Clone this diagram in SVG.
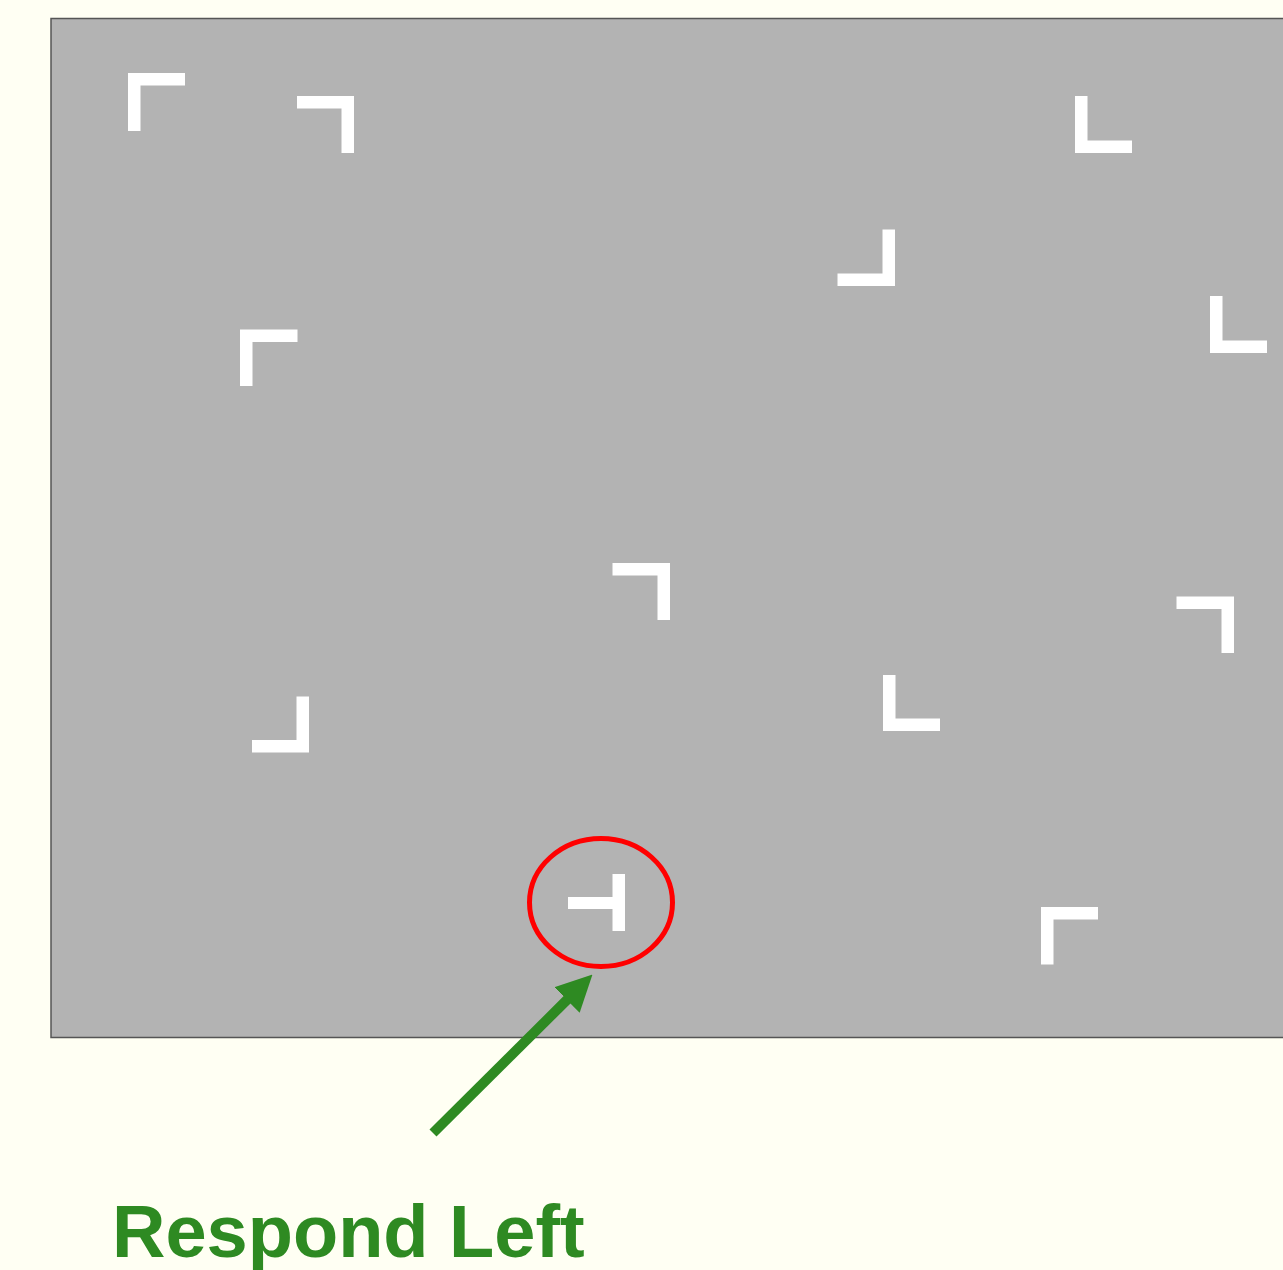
<svg xmlns="http://www.w3.org/2000/svg" width="1283" height="1270" viewBox="0 0 1283 1270">
<defs>
<style>
.item{fill:#ffffff}
.label{font-family:"Liberation Sans",Arial,sans-serif;font-weight:bold;font-size:74px;fill:#2e8a22}
</style>
<marker id="head" viewBox="0 0 36 36" refX="5" refY="18" markerWidth="36" markerHeight="36" markerUnits="userSpaceOnUse" orient="auto">
<path d="M0 0 L36 18 L0 36 Z" fill="#2e8a22"/>
</marker>
</defs>
<rect width="1283" height="1270" fill="#fffff3"/>
<g id="display">
<rect x="51" y="18.5" width="1240" height="1019" fill="#b3b3b3" stroke="#555555" stroke-width="1.5"/>
</g>
<g id="distractors">
<path id="d1" class="item" d="M128 73 H185 V85.5 H140.5 V131 H128 Z"/>
<path id="d2" class="item" d="M354 96 V153 H341.5 V108.5 H297 V96 Z"/>
<path id="d3" class="item" d="M1075 96 H1087.5 V140.5 H1132 V153 H1075 Z"/>
<path id="d4" class="item" d="M1210 296 H1222.5 V340.5 H1267 V353 H1210 Z"/>
<path id="d5" class="item" d="M895 229.5 V286 H837.5 V273.5 H882.5 V229.5 Z"/>
<path id="d6" class="item" d="M240 329.5 H297.5 V342 H252.5 V386 H240 Z"/>
<path id="d7" class="item" d="M670 563 V620 H657.5 V575.5 H612.5 V563 Z"/>
<path id="d8" class="item" d="M1234 596.5 V653 H1221.5 V609 H1176.5 V596.5 Z"/>
<path id="d9" class="item" d="M1041 907 H1098 V919.5 H1053.5 V964.5 H1041 Z"/>
<path id="d10" class="item" d="M309 696.5 V752.5 H252 V740 H296.5 V696.5 Z"/>
<path id="d11" class="item" d="M883 675 H895.5 V718.5 H940 V731 H883 Z"/>
</g>
<g id="target">
<path class="item" d="M612.5 874 H625 V931 H612.5 V909 H568 V897 H612.5 Z"/>
<ellipse cx="601" cy="902.5" rx="71.5" ry="64" fill="none" stroke="#ff0000" stroke-width="5"/>
</g>
<g id="connectors">
<line x1="433" y1="1133" x2="570.5" y2="996.4" stroke="#2e8a22" stroke-width="10" marker-end="url(#head)"/>
</g>
<g id="caption">
<text class="label" x="112" y="1257">Respond Left</text>
</g>
</svg>
